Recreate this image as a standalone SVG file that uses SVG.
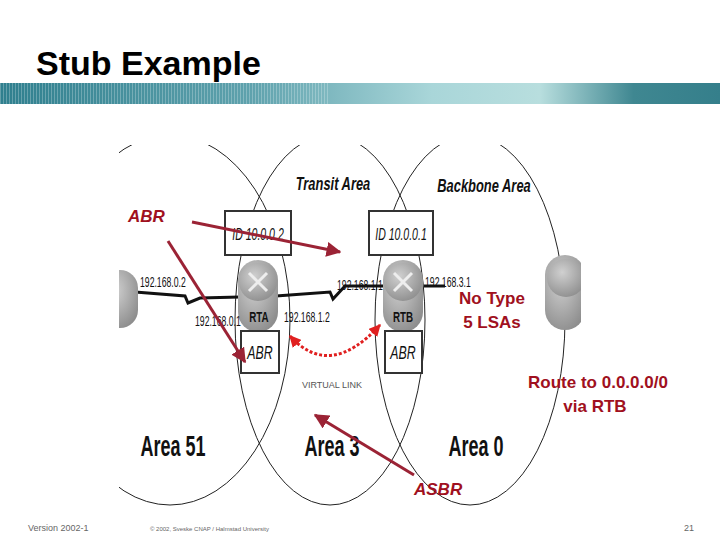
<svg xmlns="http://www.w3.org/2000/svg" width="720" height="540" viewBox="0 0 720 540">
<defs>
<linearGradient id="band" x1="0" x2="1" y1="0" y2="0">
<stop offset="0" stop-color="#2f7f8e"/><stop offset="0.35" stop-color="#5fa2ad"/><stop offset="0.6" stop-color="#a9d6d9"/><stop offset="0.75" stop-color="#b8dede"/><stop offset="0.88" stop-color="#3f8791"/><stop offset="1" stop-color="#357f8b"/>
</linearGradient>
<pattern id="stripes" width="3" height="10" patternUnits="userSpaceOnUse"><rect width="1" height="10" fill="#ffffff" opacity="0.25"/></pattern>
<clipPath id="img"><rect x="119" y="145" width="462" height="362"/></clipPath>
<radialGradient id="rt" cx="0.4" cy="0.35" r="0.7"><stop offset="0" stop-color="#d0d0d0"/><stop offset="1" stop-color="#8e8e8e"/></radialGradient>
<marker id="ah" viewBox="0 0 10 10" refX="9" refY="5" markerWidth="5" markerHeight="5" orient="auto"><path d="M0,0 L10,5 L0,10 z" fill="#9b2335"/></marker>
<marker id="rh" viewBox="0 0 10 10" refX="9" refY="5" markerWidth="4" markerHeight="4" orient="auto-start-reverse"><path d="M0,0 L10,5 L0,10 z" fill="#e02020"/></marker>
</defs>
<style>
.lbl{font-family:"Liberation Sans Narrow","Liberation Sans",Arial,sans-serif;fill:#111}
.ell{fill:none;stroke:#222;stroke-width:1}
.box{fill:#fff;stroke:#333;stroke-width:2}
.red{font-family:"Liberation Sans",Arial,sans-serif;font-weight:bold;fill:#a01020;font-size:17px}
.arr{stroke:#9b2335;stroke-width:3;fill:none;marker-end:url(#ah)}
</style>
<rect width="720" height="540" fill="#fff"/>
<text x="36" y="75" font-family="Liberation Sans,Arial,sans-serif" font-size="34" font-weight="bold" fill="#000">Stub Example</text>
<rect x="0" y="83" width="720" height="21" fill="url(#band)"/>
<rect x="0" y="83" width="330" height="21" fill="url(#stripes)"/>
<g clip-path="url(#img)">
<g id="areas">
<ellipse class="ell" cx="170" cy="320" rx="120" ry="185"/>
<ellipse class="ell" cx="330" cy="320" rx="95" ry="185"/>
<ellipse class="ell" cx="470" cy="320" rx="95" ry="185"/>
</g>
<g id="links" stroke="#111" stroke-width="3" fill="none">
<path d="M135,292 L185,296 L188,303 L200,298 L240,297"/>
<path d="M276,296 L330,292 L333,299 L345,286 L385,286"/>
<path d="M424,286 L445,286"/>
</g>
<g id="routers">
<g id="r-left"><rect x="100" y="270" width="38" height="58" rx="18" fill="url(#rt)"/></g>
<g id="rta"><rect x="238" y="260" width="40" height="72" rx="20" fill="url(#rt)"/><circle cx="258" cy="282" r="19" fill="url(#rt)"/><path d="M249,273 L267,291 M267,273 L249,291" stroke="#eee" stroke-width="3"/></g>
<g id="rtb"><rect x="383" y="260" width="40" height="72" rx="20" fill="url(#rt)"/><circle cx="403" cy="282" r="19" fill="url(#rt)"/><path d="M394,273 L412,291 M412,273 L394,291" stroke="#eee" stroke-width="3"/></g>
<g id="r-right"><rect x="545" y="255" width="40" height="75" rx="20" fill="url(#rt)"/><circle cx="566" cy="278" r="19" fill="url(#rt)"/></g>
</g>
<g id="idboxes">
<rect class="box" x="225" y="211" width="66" height="44"/>
<text class="lbl" x="258" y="240" font-size="17" text-anchor="middle" font-style="italic" transform="translate(258 0) scale(0.62 1) translate(-258 0)">ID 10.0.0.2</text>
<rect class="box" x="369" y="211" width="64" height="44"/>
<text class="lbl" x="401" y="240" font-size="17" text-anchor="middle" font-style="italic" transform="translate(401 0) scale(0.62 1) translate(-401 0)">ID 10.0.0.1</text>
<rect class="box" x="241" y="331" width="38" height="42"/>
<text class="lbl" x="260" y="359" font-size="19" font-style="italic" text-anchor="middle" transform="translate(260 0) scale(0.65 1) translate(-260 0)">ABR</text>
<rect class="box" x="385" y="331" width="37" height="42"/>
<text class="lbl" x="403" y="359" font-size="19" font-style="italic" text-anchor="middle" transform="translate(403 0) scale(0.65 1) translate(-403 0)">ABR</text>
</g>
<g font-size="14" class="lbl">
<text x="140" y="287" transform="translate(140 0) scale(0.62 1) translate(-140 0)">192.168.0.2</text>
<text x="195" y="326" transform="translate(195 0) scale(0.62 1) translate(-195 0)">192.168.0.1</text>
<text x="284" y="322" transform="translate(284 0) scale(0.62 1) translate(-284 0)">192.168.1.2</text>
<text x="337" y="290" transform="translate(337 0) scale(0.62 1) translate(-337 0)">192.168.1.1</text>
<text x="425" y="287" transform="translate(425 0) scale(0.62 1) translate(-425 0)">192.168.3.1</text>
<text x="259" y="322" font-weight="bold" text-anchor="middle" transform="translate(259 0) scale(0.7 1) translate(-259 0)">RTA</text>
<text x="403" y="322" font-weight="bold" text-anchor="middle" transform="translate(403 0) scale(0.7 1) translate(-403 0)">RTB</text>
<text x="332" y="388" font-size="9" text-anchor="middle" fill="#555">VIRTUAL LINK</text>
</g>
<g class="lbl" font-weight="bold" font-style="italic" font-size="19">
<text x="333" y="190" text-anchor="middle" transform="translate(333 0) scale(0.68 1) translate(-333 0)">Transit Area</text>
<text x="484" y="192" text-anchor="middle" transform="translate(484 0) scale(0.68 1) translate(-484 0)">Backbone Area</text>
</g>
<g class="lbl" font-weight="bold" font-size="30">
<text x="173" y="456" text-anchor="middle" transform="translate(173 0) scale(0.6 1) translate(-173 0)">Area 51</text>
<text x="332" y="456" text-anchor="middle" transform="translate(332 0) scale(0.6 1) translate(-332 0)">Area 3</text>
<text x="476" y="456" text-anchor="middle" transform="translate(476 0) scale(0.6 1) translate(-476 0)">Area 0</text>
</g>
</g>
<g id="connectors">
<path d="M290,336 Q330,380 380,325" fill="none" stroke="#e02020" stroke-width="3" stroke-dasharray="3 2" marker-start="url(#rh)" marker-end="url(#rh)"/>
<path class="arr" d="M192,222 L340,252"/>
<path class="arr" d="M168,241 L245,362"/>
<path class="arr" d="M414,475 L315,415"/>
</g>
<text x="128" y="222" class="red" font-style="italic" font-weight="normal" font-size="19">ABR</text>
<text x="414" y="495" class="red" font-style="italic" font-weight="normal" font-size="19">ASBR</text>
<text x="492" y="304" class="red" text-anchor="middle">No Type</text>
<text x="492" y="328" class="red" text-anchor="middle">5 LSAs</text>
<text x="598" y="388" class="red" text-anchor="middle">Route to 0.0.0.0/0</text>
<text x="595" y="412" class="red" text-anchor="middle">via RTB</text>
<text x="28" y="531" font-family="Liberation Sans,Arial,sans-serif" font-size="9" fill="#666">Version 2002-1</text>
<text x="150" y="531" font-family="Liberation Sans,Arial,sans-serif" font-size="6" fill="#666">© 2002, Sveske CNAP / Halmstad University</text>
<text x="694" y="531" font-family="Liberation Sans,Arial,sans-serif" font-size="9" fill="#666" text-anchor="end">21</text>
</svg>
